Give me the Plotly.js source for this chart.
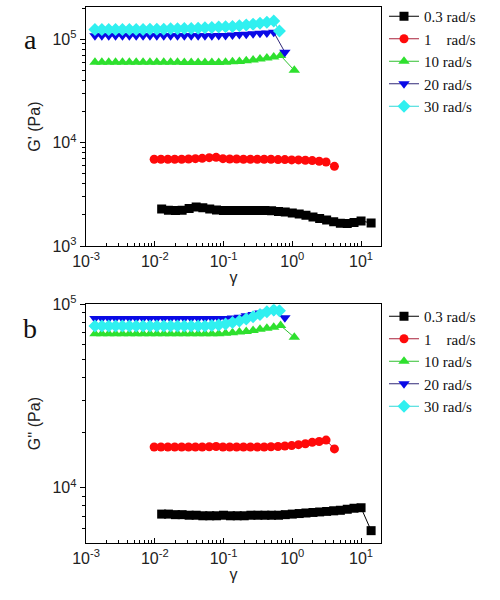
<!DOCTYPE html>
<html>
<head>
<meta charset="utf-8">
<script src="https://cdn.plot.ly/plotly-3.0.1.min.js"></script>
<style>html,body{margin:0;padding:0;background:#fff;}#chart{width:500px;height:600px;}</style>
</head>
<body>
<div id="chart"></div>
<script>
// Series names
const seriesNames = ['0.3 rad/s', '1\u00a0\u00a0\u00a0\u00a0rad/s', '10 rad/s', '20 rad/s', '30 rad/s'];

// Strain (gamma) values per series
const x03 = [0.0126, 0.0158, 0.02, 0.025, 0.0316, 0.04, 0.05, 0.063, 0.079, 0.1, 0.126, 0.158, 0.2, 0.25, 0.316, 0.4, 0.5, 0.63, 0.79, 1.0, 1.26, 1.58, 2.0, 2.5, 3.16, 4.0, 5.0, 6.3, 7.9, 10, 14];
const x1 = [0.0098, 0.0123, 0.0155, 0.0195, 0.0246, 0.031, 0.039, 0.049, 0.062, 0.078, 0.098, 0.123, 0.155, 0.195, 0.246, 0.31, 0.39, 0.49, 0.62, 0.78, 0.98, 1.23, 1.55, 1.95, 2.46, 3.1, 4.1];
const x10 = [0.00135, 0.0017, 0.00214, 0.00269, 0.00339, 0.00427, 0.00537, 0.00676, 0.00851, 0.0107, 0.0135, 0.017, 0.0214, 0.0269, 0.0339, 0.0427, 0.0537, 0.0676, 0.0851, 0.107, 0.135, 0.17, 0.214, 0.269, 0.339, 0.427, 0.537, 0.676, 1.07];
const x20 = [0.00135, 0.0017, 0.00214, 0.00269, 0.00339, 0.00427, 0.00537, 0.00676, 0.00851, 0.0107, 0.0135, 0.017, 0.0214, 0.0269, 0.0339, 0.0427, 0.0537, 0.0676, 0.0851, 0.107, 0.135, 0.17, 0.214, 0.269, 0.339, 0.427, 0.537, 0.78];
const x30 = [0.00135, 0.0017, 0.00214, 0.00269, 0.00339, 0.00427, 0.00537, 0.00676, 0.00851, 0.0107, 0.0135, 0.017, 0.0214, 0.0269, 0.0339, 0.0427, 0.0537, 0.0676, 0.0851, 0.107, 0.135, 0.17, 0.214, 0.269, 0.339, 0.427, 0.537, 0.65];

// G' (Pa), panel a
const gp03 = [2280, 2220, 2200, 2220, 2300, 2380, 2350, 2280, 2230, 2200, 2200, 2200, 2200, 2200, 2200, 2200, 2190, 2160, 2130, 2090, 2040, 1980, 1910, 1840, 1780, 1720, 1660, 1650, 1690, 1750, 1670];
const gp1 = [6900, 6900, 6900, 6900, 6900, 6950, 7000, 7050, 7150, 7200, 7000, 6950, 6950, 6900, 6900, 6900, 6900, 6900, 6850, 6850, 6800, 6800, 6750, 6700, 6600, 6500, 5900];
const gp10 = [60000, 60000, 60000, 60000, 60000, 60000, 60000, 60000, 60000, 60000, 60000, 60000, 60000, 59500, 59500, 59500, 59500, 59500, 59500, 60000, 60500, 61000, 62000, 63000, 64500, 66000, 67500, 69500, 50000];
const gp20 = [108000, 108000, 108000, 108000, 108000, 108000, 108000, 108000, 108000, 108000, 108000, 108000, 108000, 108000, 108000, 108000, 108000, 108000, 108500, 109000, 110000, 111000, 112000, 113000, 114000, 115000, 117000, 75000];
const gp30 = [124000, 124000, 124000, 124000, 124000, 124000, 124000, 124000, 125000, 125000, 125000, 126000, 126000, 127000, 127000, 128000, 129000, 130000, 131000, 132000, 133000, 135000, 137000, 140000, 143000, 146000, 150000, 120000];

// G'' (Pa), panel b
const gpp03 = [7200, 7200, 7150, 7150, 7100, 7100, 7050, 7050, 7050, 7100, 7050, 7050, 7050, 7100, 7100, 7100, 7100, 7100, 7150, 7200, 7250, 7300, 7350, 7400, 7450, 7500, 7550, 7650, 7750, 7800, 5850];
const gpp1 = [16700, 16700, 16700, 16700, 16700, 16700, 16700, 16700, 16750, 16800, 16700, 16700, 16700, 16700, 16700, 16700, 16700, 16750, 16800, 16900, 17000, 17200, 17400, 17700, 17900, 18200, 16300];
const gpp10 = [69000, 69000, 69000, 69000, 69000, 69000, 69000, 69000, 69000, 69000, 69000, 69000, 69000, 69000, 69000, 69000, 69000, 69000, 69000, 69500, 70000, 70500, 71000, 72000, 73000, 74000, 75000, 76500, 66000];
const gpp20 = [83500, 83500, 83500, 83500, 83500, 83500, 83500, 83500, 83500, 83500, 83500, 83500, 83500, 83500, 83500, 83500, 83500, 83500, 83500, 83500, 84000, 85000, 86500, 88000, 89500, 90500, 91500, 84500];
const gpp30 = [76000, 76000, 76000, 76000, 76000, 76000, 76000, 76000, 76000, 76000, 76000, 76000, 76000, 76000, 76000, 76000, 76000, 76500, 77000, 78000, 79500, 81000, 83000, 85500, 88000, 91000, 93000, 92000];

// Axis ticks and tick labels
const xTickVals = [0.001, 0.01, 0.1, 1, 10];
const xTickText = ['10<sup>-3</sup>', '10<sup>-2</sup>', '10<sup>-1</sup>', '10<sup>0</sup>', '10<sup>1</sup>'];
const yTickValsA = [1000, 10000, 100000];
const yTickTextA = ['10<sup>3</sup>', '10<sup>4</sup>', '10<sup>5</sup>'];
const yTickValsB = [10000, 100000];
const yTickTextB = ['10<sup>4</sup>', '10<sup>5</sup>'];

const markerColors = ['#000000', '#ff0a0a', '#2ee02e', '#0a0ae6', '#30f0f0'];
const lineColors = ['#000000', '#a8203a', '#30c030', '#302878', '#30d8d8'];
const symbols = ['square', 'circle', 'triangle-up', 'triangle-down', 'diamond'];
const msizes = [9, 9, 10, 10, 10];

const xs = [x03, x1, x10, x20, x30];
const ysA = [gp03, gp1, gp10, gp20, gp30];
const ysB = [gpp03, gpp1, gpp10, gpp20, gpp30];

const traces = [];
for (let i = 0; i < 5; i++) {
  traces.push({
    x: xs[i], y: ysA[i], name: seriesNames[i], type: 'scatter', mode: 'lines+markers',
    xaxis: 'x', yaxis: 'y', legend: 'legend',
    line: {color: lineColors[i], width: 1},
    marker: {symbol: symbols[i], size: msizes[i], color: markerColors[i]}
  });
}
for (let i = 0; i < 5; i++) {
  traces.push({
    x: xs[i], y: ysB[i], name: seriesNames[i], type: 'scatter', mode: 'lines+markers',
    xaxis: 'x2', yaxis: 'y2', legend: 'legend2',
    line: {color: lineColors[i], width: 1},
    marker: {symbol: symbols[i], size: msizes[i], color: markerColors[i]}
  });
}

const SANS = 'Liberation Sans';
const SERIF = 'Liberation Serif';
const tickFont = {family: SANS, size: 16, color: '#222'};
const titleFont = {family: SANS, size: 16, color: '#222'};

function xAxis(anchor) {
  return {
    type: 'log', range: [-3, 1.29], domain: [0.172, 0.762], anchor: anchor,
    tickmode: 'array', tickvals: xTickVals, ticktext: xTickText,
    ticks: 'inside', ticklen: 5, tickwidth: 1, tickcolor: '#000',
    minor: {ticks: 'inside', ticklen: 3, tickwidth: 1, tickcolor: '#000', dtick: 'D1', showgrid: false},
    showline: true, linecolor: '#000', linewidth: 1.3, mirror: true,
    showgrid: false, zeroline: false, automargin: false,
    tickfont: tickFont,
    title: {text: '\u03b3', font: titleFont, standoff: 3}
  };
}
function yAxis(anchor, range, domain, tv, tt, title) {
  return {
    type: 'log', range: range, domain: domain, anchor: anchor,
    tickmode: 'array', tickvals: tv, ticktext: tt,
    ticks: 'outside', ticklen: 5, tickwidth: 1, tickcolor: '#000',
    minor: {ticks: 'outside', ticklen: 3, tickwidth: 1, tickcolor: '#000', dtick: 'D1', showgrid: false},
    showline: true, linecolor: '#000', linewidth: 1.3, mirror: true,
    showgrid: false, zeroline: false, automargin: false,
    tickfont: tickFont,
    title: {text: title, font: titleFont, standoff: 8}
  };
}

const legendFont = {family: SERIF, size: 15, color: '#111'};

const layout = {
  width: 500, height: 600,
  margin: {l: 0, r: 0, t: 0, b: 0},
  paper_bgcolor: '#fff', plot_bgcolor: '#fff',
  font: {family: SERIF, size: 16, color: '#111'},
  showlegend: true,
  xaxis: xAxis('y'),
  yaxis: yAxis('x', [3, 5.31], [0.59, 0.988], yTickValsA, yTickTextA, "G' (Pa)"),
  xaxis2: xAxis('y2'),
  yaxis2: yAxis('x2', [3.70, 5.0], [0.095, 0.493], yTickValsB, yTickTextB, "G'' (Pa)"),
  legend: {x: 0.768, y: 1.0, xanchor: 'left', yanchor: 'top', font: legendFont, bgcolor: 'rgba(0,0,0,0)', borderwidth: 0, tracegroupgap: 0, itemwidth: 30},
  legend2: {x: 0.768, y: 0.5, xanchor: 'left', yanchor: 'top', font: legendFont, bgcolor: 'rgba(0,0,0,0)', borderwidth: 0, tracegroupgap: 0, itemwidth: 30},
  annotations: [
    {text: 'a', x: 30 / 500, y: 1 - 40 / 600, xref: 'paper', yref: 'paper', showarrow: false, xanchor: 'center', yanchor: 'middle', font: {family: SERIF, size: 28, color: '#111'}},
    {text: 'b', x: 30 / 500, y: 1 - 328 / 600, xref: 'paper', yref: 'paper', showarrow: false, xanchor: 'center', yanchor: 'middle', font: {family: SERIF, size: 28, color: '#111'}}
  ]
};

Plotly.newPlot('chart', traces, layout, {staticPlot: true, displayModeBar: false});
</script>
</body>
</html>
